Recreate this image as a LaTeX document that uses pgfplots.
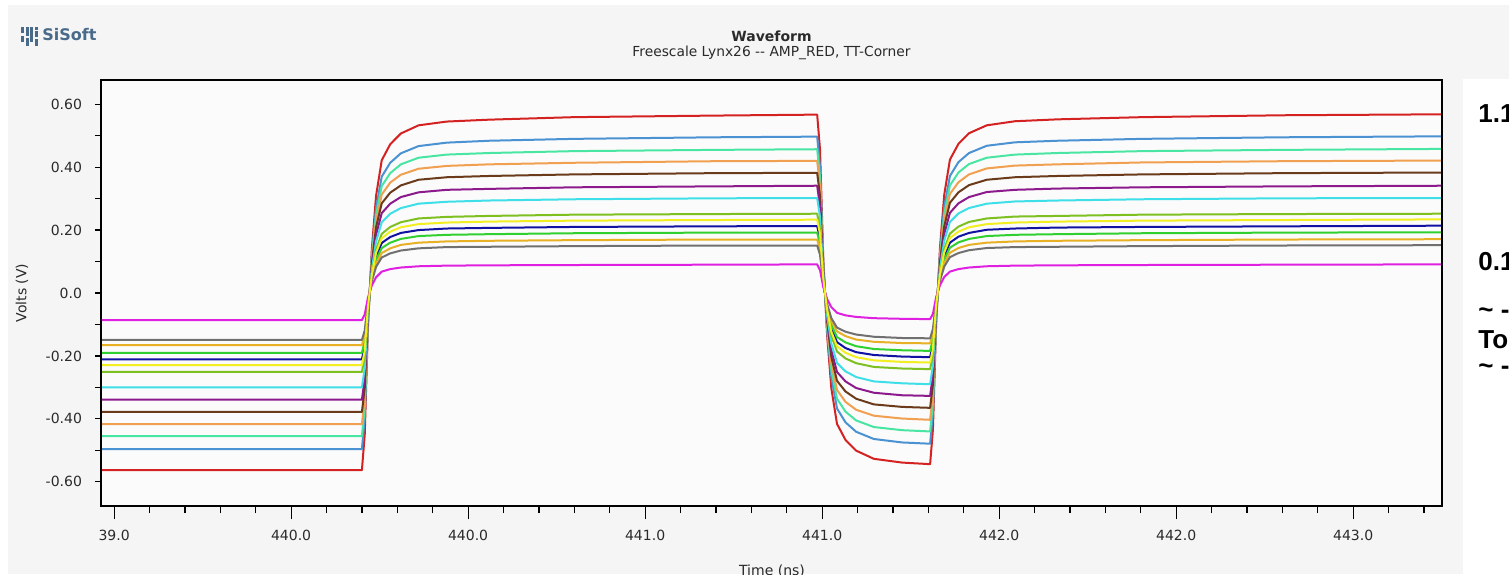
\documentclass[border=0pt]{standalone}
\usepackage{pgfplots}
\pgfplotsset{compat=1.18}
\usepackage{pgfplotstable}
\usepackage{fontspec}
\setmainfont{DejaVu Sans}
\newfontfamily\slidefont{Liberation Sans}
\definecolor{panel}{HTML}{F5F5F5}
\definecolor{plotbg}{HTML}{FBFBFB}
\definecolor{txt}{HTML}{2A2A2A}
\definecolor{logo}{HTML}{4A6A8A}
\definecolor{cRed}{HTML}{D42222}
\definecolor{cBlue}{HTML}{4A92D2}
\definecolor{cAqua}{HTML}{48E6A2}
\definecolor{cOrange}{HTML}{F0A050}
\definecolor{cBrown}{HTML}{6A3A1A}
\definecolor{cPurple}{HTML}{8C1A8C}
\definecolor{cCyan}{HTML}{3EDFE8}
\definecolor{cYG}{HTML}{7DC020}
\definecolor{cYellow}{HTML}{F2EE20}
\definecolor{cNavy}{HTML}{1212A2}
\definecolor{cGreen}{HTML}{30D030}
\definecolor{cGold}{HTML}{E8B024}
\definecolor{cGray}{HTML}{707070}
\definecolor{cMag}{HTML}{E020E0}
\pgfplotstableread{
t r b aq o br pu cy yg ye nv gr go gy mg
439.163 -0.563 -0.496 -0.455 -0.417 -0.378 -0.339 -0.300 -0.251 -0.229 -0.211 -0.190 -0.166 -0.149 -0.086
439.900 -0.563 -0.496 -0.455 -0.417 -0.378 -0.339 -0.300 -0.251 -0.229 -0.211 -0.190 -0.166 -0.149 -0.086
439.908 -0.450 -0.397 -0.364 -0.333 -0.302 -0.271 -0.240 -0.201 -0.183 -0.169 -0.152 -0.132 -0.119 -0.068
439.917 -0.110 -0.098 -0.089 -0.081 -0.073 -0.067 -0.059 -0.049 -0.044 -0.041 -0.037 -0.031 -0.029 -0.015
439.928 0.139 0.121 0.112 0.103 0.094 0.083 0.074 0.062 0.058 0.053 0.048 0.043 0.038 0.024
439.940 0.309 0.270 0.249 0.229 0.209 0.185 0.164 0.137 0.128 0.116 0.105 0.094 0.083 0.050
439.956 0.422 0.370 0.340 0.313 0.285 0.254 0.225 0.188 0.174 0.159 0.143 0.127 0.113 0.068
439.980 0.473 0.414 0.381 0.351 0.319 0.284 0.252 0.210 0.195 0.178 0.160 0.142 0.126 0.076
440.010 0.507 0.444 0.409 0.376 0.342 0.305 0.270 0.225 0.209 0.191 0.172 0.153 0.135 0.081
440.060 0.533 0.467 0.430 0.395 0.360 0.320 0.284 0.237 0.219 0.200 0.181 0.160 0.142 0.085
440.140 0.545 0.478 0.440 0.404 0.368 0.328 0.290 0.242 0.224 0.205 0.185 0.164 0.146 0.087
440.260 0.551 0.484 0.445 0.409 0.372 0.331 0.294 0.245 0.227 0.207 0.187 0.166 0.147 0.088
440.500 0.559 0.490 0.451 0.414 0.377 0.336 0.298 0.249 0.230 0.210 0.190 0.168 0.149 0.089
440.900 0.564 0.495 0.455 0.419 0.381 0.339 0.301 0.251 0.232 0.212 0.192 0.170 0.151 0.090
441.186 0.567 0.497 0.457 0.420 0.382 0.341 0.302 0.252 0.233 0.213 0.192 0.170 0.151 0.091
441.194 0.456 0.400 0.368 0.338 0.308 0.274 0.243 0.203 0.188 0.172 0.155 0.137 0.122 0.073
441.203 0.116 0.101 0.093 0.086 0.079 0.070 0.062 0.051 0.049 0.044 0.040 0.036 0.032 0.020
441.214 -0.133 -0.118 -0.108 -0.098 -0.088 -0.080 -0.071 -0.060 -0.053 -0.050 -0.045 -0.038 -0.035 -0.019
441.226 -0.303 -0.267 -0.245 -0.224 -0.203 -0.182 -0.161 -0.135 -0.123 -0.113 -0.102 -0.089 -0.080 -0.045
441.242 -0.416 -0.367 -0.336 -0.308 -0.279 -0.251 -0.222 -0.186 -0.169 -0.156 -0.140 -0.122 -0.110 -0.063
441.266 -0.467 -0.411 -0.377 -0.346 -0.313 -0.281 -0.249 -0.208 -0.190 -0.175 -0.157 -0.137 -0.123 -0.071
441.296 -0.501 -0.441 -0.405 -0.371 -0.336 -0.302 -0.267 -0.223 -0.204 -0.188 -0.169 -0.148 -0.132 -0.076
441.346 -0.527 -0.464 -0.426 -0.390 -0.354 -0.317 -0.281 -0.235 -0.214 -0.197 -0.178 -0.155 -0.139 -0.080
441.426 -0.539 -0.475 -0.436 -0.399 -0.362 -0.325 -0.287 -0.240 -0.219 -0.202 -0.182 -0.159 -0.143 -0.082
441.505 -0.544 -0.479 -0.440 -0.403 -0.365 -0.327 -0.290 -0.242 -0.221 -0.204 -0.184 -0.160 -0.144 -0.083
441.513 -0.433 -0.381 -0.350 -0.320 -0.290 -0.261 -0.230 -0.193 -0.176 -0.162 -0.146 -0.127 -0.114 -0.066
441.522 -0.099 -0.088 -0.080 -0.073 -0.065 -0.060 -0.053 -0.044 -0.039 -0.037 -0.033 -0.028 -0.026 -0.013
441.533 0.146 0.127 0.118 0.109 0.099 0.088 0.078 0.065 0.061 0.055 0.050 0.045 0.040 0.025
441.545 0.313 0.274 0.252 0.232 0.212 0.188 0.167 0.139 0.129 0.118 0.106 0.095 0.084 0.051
441.561 0.424 0.372 0.342 0.315 0.287 0.255 0.226 0.189 0.175 0.160 0.144 0.128 0.114 0.068
441.585 0.474 0.416 0.383 0.352 0.320 0.285 0.253 0.211 0.195 0.179 0.161 0.143 0.127 0.076
441.615 0.508 0.445 0.410 0.377 0.343 0.305 0.270 0.226 0.209 0.191 0.172 0.153 0.136 0.081
441.665 0.533 0.468 0.430 0.396 0.360 0.321 0.284 0.237 0.219 0.201 0.181 0.160 0.143 0.085
441.745 0.546 0.479 0.440 0.405 0.368 0.328 0.291 0.243 0.224 0.205 0.185 0.164 0.146 0.087
441.865 0.552 0.484 0.445 0.409 0.372 0.332 0.294 0.245 0.227 0.208 0.187 0.166 0.147 0.088
442.105 0.559 0.490 0.451 0.415 0.377 0.336 0.298 0.249 0.230 0.210 0.190 0.168 0.149 0.089
442.505 0.565 0.495 0.455 0.419 0.381 0.339 0.301 0.251 0.232 0.212 0.192 0.170 0.151 0.090
442.951 0.568 0.498 0.458 0.421 0.383 0.341 0.302 0.252 0.234 0.214 0.193 0.171 0.152 0.091
}\wave
\begin{document}
\begin{tikzpicture}
\fill[white] (0pt,0pt) rectangle (754.5pt,287pt);
\fill[panel] (4pt,0pt) rectangle (754.5pt,284.5pt);
\fill[white] (731.5pt,0pt) rectangle (754.5pt,247.5pt);
% logo
\foreach \xx/\yy/\hh in {10.5/266/3,10.5/270.5/3,12.8/264/4,12.8/269/4.5,15.1/266/7.5,17.4/264/3.5,17.4/268.5/3,17.4/272/1.5}{
  \fill[logo] (\xx pt,\yy pt) rectangle ++(1.5pt,\hh pt);}
\node[anchor=west,inner sep=0pt,text=logo,font=\fontsize{8}{9}\selectfont\bfseries] at (21pt,269.5pt) {SiSoft};
% titles
\node[text=txt,font=\fontsize{7}{8}\selectfont\bfseries] at (385.75pt,269pt) {Waveform};
\node[text=txt,font=\fontsize{6.9}{8}\selectfont] at (385.75pt,260.4pt) {Freescale Lynx26 {-}{-} AMP\_RED, TT-Corner};
\node[rotate=90,text=txt,font=\fontsize{7}{8}\selectfont] at (11pt,140.5pt) {Volts (V)};
\node[anchor=base,text=txt,font=\fontsize{7}{8}\selectfont] at (386pt,-0.8pt) {Time (ns)};
% slide text at right (cut off by the page edge, as in the reference)
\begin{scope}[every node/.style={anchor=west,inner sep=0pt,font=\slidefont\fontsize{13}{15}\selectfont\bfseries}]
\node at (739pt,230.3pt) {1.1};
\node at (739pt,156.2pt) {0.1};
\node at (739pt,130.5pt) {\textasciitilde\ -};
\node at (739pt,117.3pt) {To};
\node at (739pt,102.5pt) {\textasciitilde\ -};
\end{scope}
\begin{axis}[
  at={(50.5pt,34pt)}, anchor=south west, scale only axis,
  width=670.5pt, height=213pt,
  xmin=439.163, xmax=442.951, ymin=-0.677, ymax=0.677,
  axis line style={black,line width=0.8pt},
  axis background/.style={fill=plotbg},
  tick align=outside, xtick pos=bottom, ytick pos=left,
  major tick length=6.5pt, minor tick length=3.5pt,
  every tick/.style={black,line width=0.6pt},
  xtick={439.2,439.7,440.2,440.7,441.2,441.7,442.2,442.7},
  xticklabels={39.0,440.0,440.0,441.0,441.0,442.0,442.0,443.0},
  minor xtick={439.3,439.4,439.5,439.6,439.8,439.9,440.0,440.1,440.3,440.4,440.5,440.6,440.8,440.9,441.0,441.1,441.3,441.4,441.5,441.6,441.8,441.9,442.0,442.1,442.3,442.4,442.5,442.6,442.8,442.9},
  ytick=\empty,
  xticklabel style={text=txt,font=\fontsize{7}{8}\selectfont,yshift=-2pt},
  no markers,
  every axis plot/.append style={line width=1pt,line join=round},
]
\addplot[cRed] table[x=t,y=r]{\wave};
\addplot[cBlue] table[x=t,y=b]{\wave};
\addplot[cAqua] table[x=t,y=aq]{\wave};
\addplot[cOrange] table[x=t,y=o]{\wave};
\addplot[cBrown] table[x=t,y=br]{\wave};
\addplot[cPurple] table[x=t,y=pu]{\wave};
\addplot[cCyan] table[x=t,y=cy]{\wave};
\addplot[cYG] table[x=t,y=yg]{\wave};
\addplot[cNavy] table[x=t,y=nv]{\wave};
\addplot[cGreen] table[x=t,y=gr]{\wave};
\addplot[cGold] table[x=t,y=go]{\wave};
\addplot[cGray] table[x=t,y=gy]{\wave};
\addplot[cMag] table[x=t,y=mg]{\wave};
\addplot[cYellow] table[x=t,y=ye]{\wave};
\end{axis}
\begin{axis}[
  at={(50.5pt,34pt)}, anchor=south west, scale only axis,
  width=670.5pt, height=213pt,
  xmin=439.163, xmax=442.951, ymin=-0.677, ymax=0.677,
  axis line style={black,line width=0.8pt},
  tick align=outside, ytick pos=left,
  major tick length=3pt, minor tick length=3pt,
  every tick/.style={black,line width=0.6pt},
  xtick=\empty,
  ytick={-0.6,-0.4,-0.2,0,0.2,0.4,0.6},
  yticklabels={-0.60,-0.40,-0.20,0.0,0.20,0.40,0.60},
  minor ytick={-0.5,-0.3,-0.1,0.1,0.3,0.5},
  yticklabel style={text=txt,font=\fontsize{7}{8}\selectfont,xshift=-3pt},
]
\end{axis}
\pgfresetboundingbox
\path[use as bounding box] (0pt,0pt) rectangle (754.5pt,287pt);
\end{tikzpicture}
\end{document}
